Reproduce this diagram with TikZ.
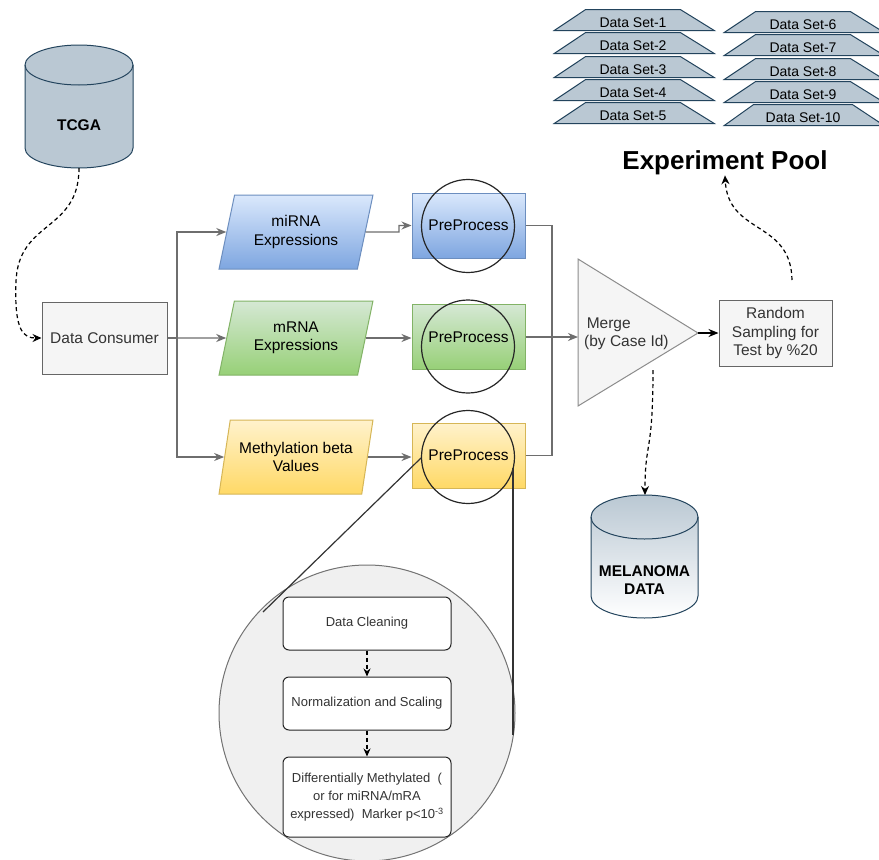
\documentclass[tikz,border=0pt]{standalone}
\usepackage{fontspec}
\setmainfont{Liberation Sans}
\usetikzlibrary{shapes.geometric,arrows.meta}
\definecolor{dbfill}{HTML}{BAC8D3}
\definecolor{dbline}{HTML}{23445D}
\definecolor{boxfill}{HTML}{F5F5F5}
\definecolor{boxline}{HTML}{666666}
\definecolor{bluetop}{HTML}{DAE8FC}
\definecolor{bluebot}{HTML}{7EA6E0}
\definecolor{blueline}{HTML}{6C8EBF}
\definecolor{greentop}{HTML}{D5E8D4}
\definecolor{greenbot}{HTML}{97D077}
\definecolor{greenline}{HTML}{82B366}
\definecolor{yeltop}{HTML}{FFF2CC}
\definecolor{yelbot}{HTML}{FFD966}
\definecolor{yelline}{HTML}{D6B656}
\definecolor{zoomfill}{HTML}{F0F0F0}
\definecolor{txt}{HTML}{333333}
\definecolor{conngray}{HTML}{6E6E6E}
\begin{document}
\begin{tikzpicture}[x=1pt,y=-1pt,
  font=\fontsize{15.5}{18.5}\selectfont,
  conn/.style={draw=conngray, line width=1.3pt, -{Stealth[length=10pt,width=8pt]}},
  plainline/.style={draw=conngray, line width=1.3pt},
  dashconn/.style={draw=black, line width=1.2pt, dash pattern=on 4pt off 3pt, -{Stealth[length=9pt,width=8pt]}},
  par/.style={trapezium, trapezium left angle=72, trapezium right angle=108,
    trapezium stretches=true, minimum width=154pt, minimum height=74pt,
    inner sep=0pt, align=center, line width=1pt},
  ppbox/.style={rectangle, minimum width=113pt, minimum height=65pt, inner sep=0pt, line width=1pt},
  lens/.style={circle, draw=black!85, line width=1.2pt, minimum size=93pt, inner sep=0pt},
  graybox/.style={rectangle, fill=boxfill, draw=boxline, line width=1pt, align=center, inner sep=0pt, text=txt},
  dset/.style={trapezium, trapezium left angle=34, trapezium right angle=32,
    trapezium stretches=true, minimum width=160pt, minimum height=21pt, inner sep=0pt,
    fill=dbfill, draw=dbline, line width=1pt, font=\fontsize{14}{16}\selectfont,
    text height=15pt, text depth=0pt},
  stepbox/.style={rectangle, rounded corners=6pt, fill=white, draw=black!85, line width=1pt,
    minimum width=168pt, align=center, inner sep=0pt, text=txt, font=\fontsize{13}{18}\selectfont}
]
\useasboundingbox (0,0) rectangle (879,860);
\fill[white] (0,0) rectangle (879,860);

% ---------- Experiment pool ----------
\node[dset] (d1) at (633,20) {Data Set-1};
\node[dset] (d2) at (633,43) {Data Set-2};
\node[dset] (d3) at (633,67) {Data Set-3};
\node[dset] (d4) at (633,90) {Data Set-4};
\node[dset] (d5) at (633,113) {Data Set-5};
\node[dset] (d6) at (803,22) {Data Set-6};
\node[dset] (d7) at (803,45) {Data Set-7};
\node[dset] (d8) at (803,69) {Data Set-8};
\node[dset] (d9) at (803,92) {Data Set-9};
\node[dset] (d10) at (803,115) {Data Set-10};
\node[inner sep=0pt, font=\fontsize{26}{30}\selectfont\bfseries] (pool) at (725,163) {Experiment Pool};

% ---------- TCGA cylinder ----------
\filldraw[fill=dbfill, draw=dbline, line width=1pt]
  (25,65) -- (25,148) arc[start angle=180, end angle=360, x radius=54pt, y radius=20pt]
  -- (133,65) arc[start angle=0, end angle=180, x radius=54pt, y radius=20pt] -- cycle;
\draw[dbline, line width=1pt] (25,65) arc[start angle=180, end angle=360, x radius=54pt, y radius=20pt];
\node[font=\fontsize{15.5}{18}\selectfont\bfseries] (tcga) at (79,125) {TCGA};
\coordinate (tcgaout) at (79,168);

% ---------- Data consumer ----------
\node[graybox, minimum width=125pt, minimum height=72pt] (dc) at (104.5,338) {Data Consumer};

% ---------- inputs ----------
\node[par, top color=bluetop, bottom color=bluebot, draw=blueline] (mirna) at (296,232) {miRNA\\Expressions};
\node[par, top color=greentop, bottom color=greenbot, draw=greenline] (mrna) at (296,338) {mRNA\\Expressions};
\node[par, top color=yeltop, bottom color=yelbot, draw=yelline] (meth) at (296,457) {Methylation beta\\Values};

% ---------- preprocess ----------
\node[ppbox, top color=bluetop, bottom color=bluebot, draw=blueline] (pp1) at (468.5,225.5) {PreProcess};
\node[ppbox, top color=greentop, bottom color=greenbot, draw=greenline] (pp2) at (468.5,337) {PreProcess};
\node[ppbox, top color=yeltop, bottom color=yelbot, draw=yelline] (pp3) at (468.5,455.5) {PreProcess};
\node[lens] (c1) at (468,226) {};
\node[lens] (c2) at (468,346.5) {};
\node[lens] (c3) at (468,457) {};

% ---------- branch connectors ----------
\coordinate (br) at (177,338);
\draw[plainline] (dc.east) -- (br);
\draw[conn] (br) |- (mirna);
\draw[conn] (br) -- (mrna);
\draw[conn] (br) |- (meth);
\coordinate (jog) at (399,232);
\draw[conn] (mirna.east) -- (jog) |- (pp1.west);
\draw[conn] (mrna.east) -- (mrna.east -| pp2.west);
\draw[conn] (meth.east) -- (meth.east -| pp3.west);

% ---------- merge ----------
\draw[fill=boxfill, draw=black!45, line width=1pt] (578,259) -- (698,333) -- (578,406) -- cycle;
\coordinate (mergeL) at (578,337);
\coordinate (mergeT) at (698,333);
\coordinate (mergeB) at (653,370);
\node[align=left, anchor=west, inner sep=0pt, text=txt] (mergetxt) at (584,334) {\,Merge\\(by Case Id)};
\coordinate (jn) at (552,337);
\draw[plainline] (pp1.east) -| (jn);
\draw[plainline] (pp3.east) -| (jn);
\draw[conn] (pp2.east) -- (jn) -- (mergeL);

% ---------- random sampling ----------
\node[graybox, minimum width=113pt, minimum height=66pt] (rs) at (775.5,333) {Random\\Sampling for\\Test by \%20};
\draw[black, line width=1.2pt, -{Stealth[length=10pt,width=8pt]}] (mergeT) -- (rs.west);
\coordinate (rsout) at (792,280);
\draw[dashconn] (rsout) .. controls (791,220) and (728,235) .. (pool.south);

% ---------- melanoma ----------
\path[top color=dbfill, bottom color=white]
  (591,517) -- (591,596) arc[start angle=180, end angle=360, x radius=53.5pt, y radius=22pt]
  -- (698,517) arc[start angle=0, end angle=180, x radius=53.5pt, y radius=22pt] -- cycle;
\draw[dbline, line width=1pt]
  (591,517) -- (591,596) arc[start angle=180, end angle=360, x radius=53.5pt, y radius=22pt]
  -- (698,517) arc[start angle=0, end angle=180, x radius=53.5pt, y radius=22pt] -- cycle;
\draw[dbline, line width=1pt] (591,517) arc[start angle=180, end angle=360, x radius=53.5pt, y radius=22pt];
\node[align=center, font=\fontsize{15.5}{18.5}\selectfont\bfseries] (mel) at (644.5,580) {MELANOMA\\DATA};
\coordinate (melin) at (645,495);
\draw[dashconn] (mergeB) .. controls (653,455) and (645,440) .. (melin);

\draw[dashconn] (tcgaout) .. controls (79,232) and (18,220) .. (16,282)
  .. controls (14,332) and (24,338) .. (dc.west);

% ---------- zoom lens ----------
\node[circle, fill=zoomfill, draw=black!55, line width=1pt, minimum size=296pt, inner sep=0pt] (zoom) at (367,713) {};
\coordinate (zl1) at (421,458);
\coordinate (zl2) at (263,612);
\coordinate (zr1) at (513,468);
\coordinate (zr2) at (513,735);
\draw[black!80, line width=1.2pt] (zl1) -- (zl2);
\draw[black!80, line width=1.2pt] (zr1) -- (zr2);

\node[stepbox, minimum height=53pt] (s1) at (367,623.5) {Data Cleaning};
\node[stepbox, minimum height=53pt] (s2) at (367,703.5) {Normalization and Scaling};
\node[stepbox, minimum height=80pt] (s3) at (367,797) {Differentially Methylated~~(\\or for miRNA/mRA\\expressed)~~Marker p<10\textsuperscript{-3}};
\draw[dashconn, -{Stealth[length=8pt,width=7pt]}] (s1) -- (s2);
\draw[dashconn, -{Stealth[length=8pt,width=7pt]}] (s2) -- (s3);
\end{tikzpicture}
\end{document}
